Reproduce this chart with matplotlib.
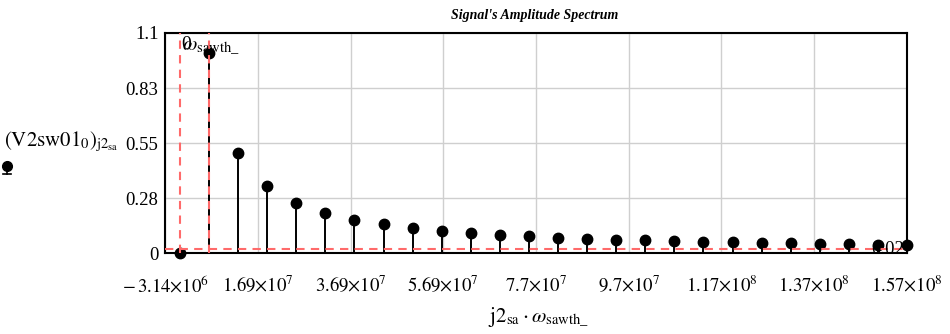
import numpy as np
import matplotlib
matplotlib.use("Agg")
import matplotlib.pyplot as plt
from matplotlib.lines import Line2D

plt.rcParams["font.family"] = ["Liberation Serif", "DejaVu Serif"]
plt.rcParams["mathtext.fontset"] = "stix"

# Harmonic spectrum of the sawtooth signal
omega_sawth = 6.2832e6          # fundamental angular frequency, rad/s
harmonics = [0, 1, 2, 3, 4, 5, 6, 7, 8, 9, 10, 11, 12, 13, 14, 15, 16, 17,
             18, 19, 20, 21, 22, 23, 24, 25]
amplitudes = [0.0, 1.0, 0.5, 0.333, 0.25, 0.2, 0.167, 0.143, 0.125, 0.111,
              0.1, 0.091, 0.083, 0.077, 0.071, 0.067, 0.063, 0.059, 0.056,
              0.053, 0.05, 0.048, 0.045, 0.043, 0.042, 0.04]

x_ticks = [-3.14e6, 1.69e7, 3.69e7, 5.69e7, 7.7e7, 9.7e7, 1.17e8, 1.37e8, 1.57e8]
x_tick_labels = [r"$-\,3.14{\times}10^{6}$", r"$1.69{\times}10^{7}$",
                 r"$3.69{\times}10^{7}$", r"$5.69{\times}10^{7}$",
                 r"$7.7{\times}10^{7}$", r"$9.7{\times}10^{7}$",
                 r"$1.17{\times}10^{8}$", r"$1.37{\times}10^{8}$",
                 r"$1.57{\times}10^{8}$"]
y_ticks = [0, 0.275, 0.55, 0.825, 1.1]
y_tick_labels = ["0", "0.28", "0.55", "0.83", "1.1"]

marker_x = [0.0, omega_sawth]   # vertical markers
marker_y = 0.02                 # horizontal marker

x = np.array(harmonics) * omega_sawth
y = np.array(amplitudes)

fig = plt.figure(figsize=(9.5, 3.34), dpi=100)
ax = fig.add_axes([0.1742, 0.2425, 0.7805, 0.6587])

ax.set_xlim(-0.5 * omega_sawth, 25 * omega_sawth)
ax.set_ylim(0, 1.1)

ax.set_xticks(x_ticks)
ax.set_xticklabels(x_tick_labels, fontsize=13.5)
ax.set_yticks(y_ticks)
ax.set_yticklabels(y_tick_labels, fontsize=13.5)
ax.tick_params(axis="both", length=0, colors="black")
ax.tick_params(axis="x", pad=16)
ax.tick_params(axis="y", pad=5)
ax.grid(True, color="#cfcfcf", linewidth=1.0)
ax.set_axisbelow(True)
for sp in ax.spines.values():
    sp.set_linewidth(1.5)
    sp.set_color("black")

# stems and points
ax.vlines(x, 0, y, color="black", linewidth=1.4, zorder=3)
ax.plot(x, y, "o", color="black", markersize=7.5, zorder=4, clip_on=False)

# dashed markers
red = "#ff6a6a"
for mx in marker_x:
    ax.axvline(mx, color=red, linestyle=(0, (4, 3)), linewidth=1.5, zorder=5)
ax.axhline(marker_y, color=red, linestyle=(0, (4, 3)), linewidth=1.5, zorder=5)

ax.text(marker_x[0] + 0.05 * omega_sawth, 1.085, "0", fontsize=14,
        ha="left", va="top", zorder=6)
ax.text(marker_x[0] + 0.08 * omega_sawth, 1.08, r"$\omega_{\mathrm{sawth\_}}$",
        fontsize=15, ha="left", va="top", zorder=6)
ax.text(25 * omega_sawth - 0.1 * omega_sawth, marker_y, "0.02", fontsize=13.5,
        ha="right", va="center", zorder=6)

# title
fig.text(0.563, 0.955, "Signal's Amplitude Spectrum", fontsize=10,
         fontweight="bold", fontstyle="italic", ha="center", va="center")

# axis labels
fig.text(0.004, 0.575, r"$\left(\mathrm{V2sw01}_{0}\right)_{\mathrm{j2}_{\mathrm{sa}}}$",
         fontsize=15, ha="left", va="center")
fig.text(0.567, 0.05, r"$\mathrm{j2}_{\mathrm{sa}}\cdot\omega_{\mathrm{sawth\_}}$",
         fontsize=15, ha="center", va="center")

# legend glyph under the y label
fig.add_artist(Line2D([0.0075, 0.0075], [0.497, 0.478], transform=fig.transFigure,
                      color="black", linewidth=1.2))
fig.add_artist(Line2D([0.0035, 0.0115], [0.478, 0.478], transform=fig.transFigure,
                      color="black", linewidth=1.2))
fig.add_artist(Line2D([0.0075], [0.502], transform=fig.transFigure, marker="o",
                      color="black", markersize=7))

fig.savefig("out.png", dpi=100)
